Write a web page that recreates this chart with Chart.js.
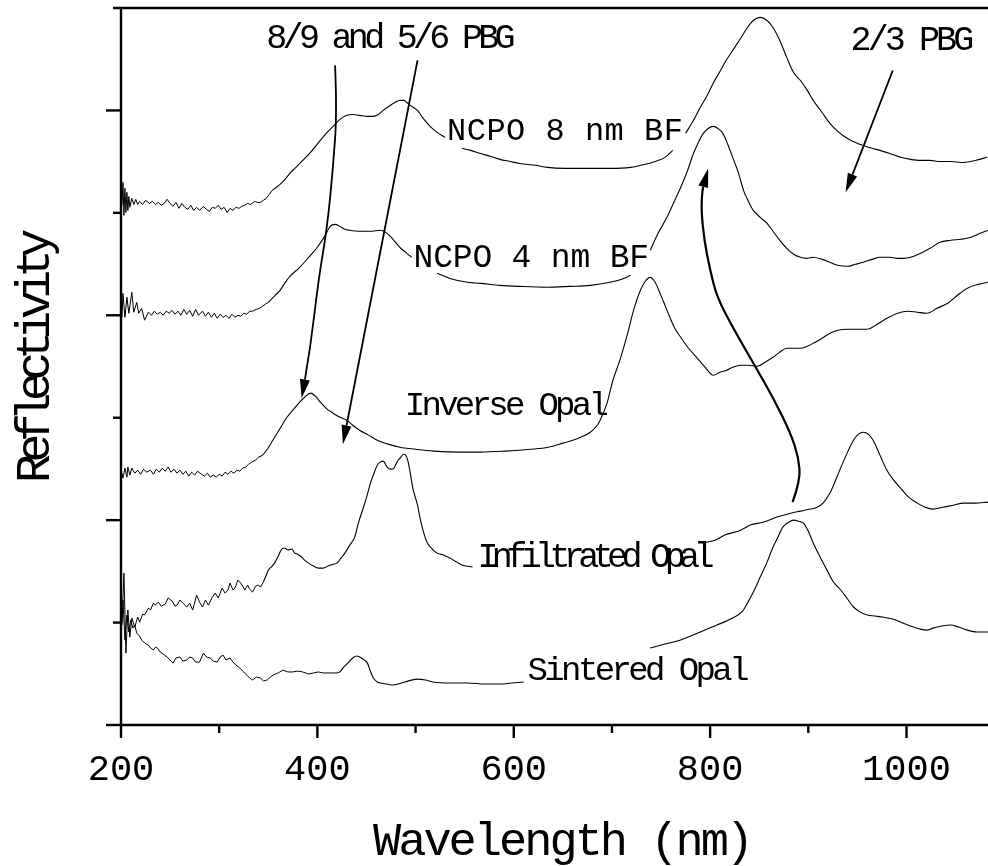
<!DOCTYPE html>
<html>
<head>
<meta charset="utf-8">
<script src="https://cdn.jsdelivr.net/npm/chart.js@4.4.1/dist/chart.umd.min.js"></script>
<style>
html,body{margin:0;padding:0;background:#fff;}
canvas{display:block;}
</style>
</head>
<body>
<canvas id="c" width="988" height="866"></canvas>
<script>
// ---- axis ticks ----
const xTicksMajor = [200, 400, 600, 800, 1000];
const xTicksMinor = [300, 500, 700, 900];
const yTicksMajor = [0, 1, 2, 3];
const yTicksMinor = [0.5, 1.5, 2.5];

// ---- series: [wavelength (nm), reflectivity (a.u., offset)] ----
const ncpo8 = [[201,2.537],[202,2.649],[203,2.488],[204,2.620],[205,2.502],[206,2.600],[207,2.512],[208,2.580],[209,2.527],[211,2.571],[213,2.541],[215,2.566],[217,2.541],[219,2.556],[222,2.541],[225,2.561],[229,2.546],[232,2.556],[235,2.541],[238,2.551],[241,2.537],[244,2.546],[247,2.566],[250,2.546],[253,2.532],[256,2.551],[259,2.522],[262,2.546],[265,2.527],[268,2.517],[271,2.537],[274,2.512],[277,2.527],[280,2.512],[284,2.532],[287,2.517],[290,2.507],[293,2.527],[296,2.522],[299,2.537],[302,2.517],[305,2.527],[308,2.502],[311,2.522],[314,2.512],[317,2.527],[320,2.522],[323,2.532],[326,2.537],[329,2.546],[332,2.541],[336,2.556],[339,2.551],[342,2.551],[345,2.561],[348,2.571],[351,2.590],[354,2.610],[358,2.624],[362,2.639],[367,2.663],[372,2.693],[377,2.717],[382,2.741],[393,2.795],[403,2.854],[410,2.893],[416,2.922],[423,2.956],[430,2.976],[436,2.980],[443,2.976],[451,2.971],[457,2.971],[462,2.980],[467,3.000],[474,3.024],[479,3.039],[484,3.049],[488,3.049],[491,3.039],[496,3.020],[502,3.000],[507,2.966],[512,2.937],[517,2.912],[522,2.893],[530,2.868],[538,null],[547,2.815],[556,2.805],[566,2.790],[576,2.776],[586,2.761],[596,2.751],[606,2.741],[622,2.732],[634,2.722],[652,2.717],[668,2.717],[683,2.717],[698,2.717],[719,2.722],[734,2.737],[744,2.751],[754,2.771],[762,2.805],[768,null],[775,2.888],[783,2.951],[790,3.015],[797,3.073],[803,3.132],[810,3.190],[815,3.234],[823,3.293],[831,3.351],[838,3.405],[844,3.439],[851,3.454],[858,3.439],[864,3.405],[871,3.341],[878,3.259],[885,3.185],[892,3.146],[899,3.098],[905,3.049],[914,2.990],[922,2.937],[930,2.898],[940,2.863],[948,2.844],[956,2.829],[965,2.815],[973,2.805],[983,2.790],[994,2.771],[1004,2.761],[1014,2.756],[1024,2.756],[1034,2.751],[1045,2.751],[1058,2.746],[1070,2.756],[1082,2.771]];

const ncpo4 = [[201,1.990],[202,2.107],[204,1.990],[206,2.088],[208,2.010],[211,2.112],[213,2.015],[216,2.063],[218,2.010],[221,2.034],[224,1.976],[228,2.015],[231,2.000],[234,2.020],[237,2.005],[240,2.015],[243,2.000],[246,2.020],[249,2.010],[252,2.024],[255,2.005],[258,2.020],[261,2.000],[264,2.029],[267,2.005],[270,2.024],[273,1.995],[276,2.029],[279,2.000],[283,2.020],[286,1.995],[289,2.015],[292,1.990],[295,2.010],[298,1.985],[301,2.005],[304,1.990],[307,2.000],[310,1.985],[313,2.005],[316,1.990],[319,2.000],[322,1.995],[325,2.010],[328,2.005],[331,2.020],[334,2.020],[338,2.029],[341,2.034],[344,2.044],[347,2.054],[350,2.063],[354,2.083],[358,2.102],[362,2.122],[366,2.151],[372,2.190],[382,2.234],[393,2.293],[400,2.332],[408,2.390],[413,2.434],[418,2.444],[423,2.434],[428,2.420],[433,2.415],[443,2.410],[454,2.410],[464,2.415],[471,2.400],[477,2.371],[484,2.332],[490,2.307],[496,2.283],[509,null],[522,2.205],[535,2.180],[553,2.161],[566,2.156],[586,2.146],[606,2.141],[634,2.137],[657,2.141],[678,2.146],[698,2.161],[710,2.176],[719,2.195],[729,null],[739,2.317],[747,2.400],[756,2.478],[763,2.551],[770,2.624],[777,2.707],[783,2.790],[788,2.844],[793,2.888],[798,2.912],[803,2.922],[808,2.912],[813,2.888],[818,2.834],[823,2.771],[829,2.693],[834,2.610],[839,2.556],[844,2.512],[851,2.478],[858,2.449],[864,2.410],[871,2.366],[878,2.327],[885,2.298],[892,2.283],[898,2.278],[905,2.283],[914,2.273],[922,2.259],[930,2.244],[940,2.239],[948,2.249],[956,2.259],[965,2.273],[973,2.283],[983,2.283],[991,2.278],[997,2.278],[1004,2.283],[1014,2.302],[1024,2.327],[1034,2.356],[1045,2.366],[1055,2.371],[1065,2.380],[1075,2.400],[1083,2.415]];

const inverseOpal = [[201,1.229],[202,1.205],[204,1.254],[206,1.210],[207,1.259],[209,1.220],[211,1.254],[214,1.229],[217,1.244],[220,1.224],[223,1.249],[226,1.234],[230,1.244],[233,1.224],[236,1.249],[239,1.234],[242,1.254],[245,1.239],[248,1.259],[251,1.234],[254,1.249],[257,1.229],[260,1.244],[263,1.224],[266,1.239],[269,1.215],[272,1.234],[275,1.220],[278,1.239],[282,1.224],[285,1.215],[288,1.229],[291,1.210],[294,1.220],[297,1.210],[300,1.224],[303,1.215],[306,1.234],[309,1.224],[312,1.239],[315,1.229],[318,1.244],[321,1.239],[324,1.254],[327,1.259],[330,1.273],[333,1.283],[337,1.293],[340,1.307],[344,1.317],[349,1.346],[354,1.385],[359,1.424],[364,1.463],[369,1.502],[375,1.537],[382,1.576],[387,1.600],[393,1.620],[398,1.605],[403,1.576],[409,1.546],[416,1.522],[423,1.502],[430,1.488],[436,1.463],[443,1.439],[452,1.415],[461,1.390],[472,1.371],[484,1.356],[500,1.346],[518,1.337],[545,1.332],[566,1.332],[591,1.337],[617,1.346],[635,1.356],[650,1.376],[666,1.400],[678,1.429],[685,1.463],[688,1.488],[695,1.571],[701,1.683],[708,1.780],[716,1.912],[722,2.024],[729,2.122],[734,2.166],[739,2.185],[744,2.161],[749,2.107],[754,2.049],[759,1.990],[764,1.937],[770,1.893],[778,1.839],[787,1.790],[795,1.746],[803,1.707],[810,1.722],[817,1.732],[823,1.746],[831,1.756],[839,1.756],[848,1.751],[856,1.771],[864,1.795],[871,1.820],[878,1.839],[885,1.839],[892,1.839],[899,1.849],[905,1.863],[914,1.888],[922,1.912],[930,1.927],[940,1.932],[950,1.932],[960,1.932],[970,1.956],[980,1.985],[991,2.010],[1001,2.020],[1011,2.015],[1021,2.010],[1031,2.034],[1042,2.059],[1052,2.098],[1062,2.132],[1073,2.151],[1083,2.161]];

const infiltratedOpal = [[201,0.498],[203,0.741],[205,0.351],[207,0.561],[209,0.429],[211,0.522],[214,0.478],[217,0.527],[219,0.502],[222,0.541],[224,0.537],[228,0.571],[230,0.561],[233,0.595],[235,0.585],[238,0.600],[241,0.580],[245,0.590],[248,0.620],[252,0.605],[255,0.580],[257,0.585],[260,0.610],[264,0.590],[267,0.576],[270,0.595],[273,0.561],[277,0.634],[280,0.600],[283,0.576],[286,0.610],[289,0.585],[293,0.624],[296,0.644],[299,0.620],[303,0.668],[306,0.644],[309,0.659],[311,0.693],[314,0.659],[316,0.668],[319,0.707],[321,0.698],[324,0.678],[326,0.659],[329,0.683],[331,0.663],[334,0.649],[337,0.678],[340,0.683],[342,0.673],[345,0.698],[348,0.732],[350,0.756],[354,0.776],[357,0.795],[360,0.824],[362,0.844],[365,0.863],[367,0.863],[370,0.854],[374,0.859],[377,0.839],[380,0.834],[384,0.820],[387,0.805],[391,0.790],[396,0.776],[401,0.766],[406,0.766],[411,0.776],[416,0.785],[420,0.790],[424,0.815],[428,0.839],[433,0.878],[438,0.917],[442,0.990],[447,1.063],[451,1.127],[454,1.180],[458,1.234],[461,1.268],[464,1.283],[467,1.288],[471,1.259],[475,1.249],[478,1.254],[481,1.283],[484,1.302],[488,1.322],[490,1.317],[492,1.293],[495,1.220],[497,1.161],[502,1.073],[505,1.000],[509,0.927],[512,0.888],[517,0.859],[522,0.839],[529,0.829],[535,0.815],[542,0.795],[548,0.780],[558,0.771],[575,null],[792,0.888],[805,0.902],[815,0.927],[831,0.951],[841,0.976],[854,0.990],[868,1.015],[882,1.034],[892,1.044],[902,1.054],[909,1.063],[915,1.083],[922,1.132],[927,1.185],[932,1.244],[940,1.332],[946,1.390],[951,1.420],[956,1.429],[961,1.420],[966,1.390],[973,1.317],[980,1.244],[987,1.195],[994,1.156],[1001,1.117],[1011,1.083],[1019,1.063],[1027,1.054],[1037,1.063],[1048,1.073],[1058,1.083],[1070,1.083],[1083,1.088]];

const sinteredOpal = [[201,0.488],[202,0.610],[204,0.415],[206,0.537],[208,0.454],[210,0.512],[212,0.473],[214,0.488],[216,0.449],[219,0.434],[221,0.415],[224,0.400],[228,0.390],[230,0.376],[233,0.366],[235,0.380],[237,0.376],[240,0.356],[243,0.346],[247,0.332],[250,0.317],[253,0.302],[256,0.327],[260,0.332],[263,0.312],[267,0.317],[270,0.332],[273,0.327],[276,0.307],[280,0.307],[284,0.351],[287,0.332],[291,0.327],[294,0.312],[298,0.307],[301,0.332],[304,0.341],[307,0.317],[311,0.327],[314,0.307],[317,0.293],[321,0.278],[325,0.259],[328,0.244],[331,0.229],[334,0.220],[338,0.234],[342,0.229],[345,0.215],[349,0.220],[352,0.234],[355,0.244],[360,0.254],[365,0.268],[370,0.259],[375,0.259],[380,0.263],[385,0.259],[391,0.249],[396,0.254],[401,0.259],[406,0.254],[413,0.254],[420,0.254],[423,0.259],[426,0.278],[431,0.302],[436,0.327],[440,0.337],[443,0.332],[448,0.317],[451,0.302],[454,0.263],[457,0.229],[461,0.210],[464,0.205],[471,0.200],[477,0.195],[489,0.210],[502,0.224],[510,0.220],[518,0.210],[535,0.205],[553,0.205],[571,0.200],[586,0.200],[598,0.205],[610,0.210],[675,null],[739,0.376],[754,0.395],[770,0.415],[790,0.454],[807,0.488],[823,0.522],[833,0.556],[838,0.595],[844,0.649],[851,0.722],[858,0.795],[864,0.868],[869,0.917],[874,0.966],[880,0.990],[885,1.000],[890,0.995],[895,0.985],[900,0.946],[905,0.888],[912,0.820],[919,0.756],[925,0.702],[933,0.659],[940,0.615],[946,0.576],[953,0.551],[960,0.537],[968,0.532],[976,0.527],[986,0.517],[994,0.502],[1004,0.483],[1014,0.468],[1021,0.463],[1027,0.473],[1036,0.483],[1045,0.488],[1053,0.478],[1062,0.463],[1072,0.454],[1083,0.454]];

const seriesNames = ['NCPO 8 nm BF', 'NCPO 4 nm BF', 'Inverse Opal', 'Infiltrated Opal', 'Sintered Opal'];
const seriesData = [ncpo8, ncpo4, inverseOpal, infiltratedOpal, sinteredOpal];
// wavelength below which each measured trace is noisy (drawn without smoothing)
const noisyUntilNm = [354, 350, 340, 345, 423];

// ---- annotation arrows (data coordinates) ----
const arrow89 = [[418,3.220],[420,3.000],[416,2.722],[410,2.429],[401,2.171],[393,1.844],[384,1.595]];
const arrow56 = [[502,3.244],[426,1.371]];
const arrow23 = [[986,3.195],[938,2.600]];
const arrowShift = [[884,1.088],[892,1.195],[890,1.307],[882,1.424],[864,1.600],[844,1.766],[823,1.941],[807,2.088],[800,2.220],[794,2.366],[791,2.512],[792,2.610],[798,2.717]];

// ---- annotation labels ----
const labelTexts = ['8/9 and 5/6 PBG', '2/3 PBG', 'NCPO 8 nm BF', 'NCPO 4 nm BF', 'Inverse Opal', 'Infiltrated Opal', 'Sintered Opal'];
const labelAnchorsNm = [348, 943, 532, 498, 489, 563, 614];
const labelAnchorsR = [3.307, 3.293, 2.854, 2.234, 1.512, 0.771, 0.220];
const labelStyle = [
  {size:35, ls:-4.7}, {size:35, ls:-3.9}, {size:32, ls:0.5}, {size:33, ls:-0.2},
  {size:34, ls:-3.7}, {size:35, ls:-6.6}, {size:34, ls:-3.6}
];

const xTitle = 'Wavelength (nm)';
const yTitle = 'Reflectivity';
const FONT = '"Liberation Mono", "Courier New", monospace';

const decor = {
  id: 'decor',
  afterDraw(chart) {
    const {ctx, chartArea: ca, scales: {x, y}} = chart;
    const px = v => x.getPixelForValue(v);
    const py = v => y.getPixelForValue(v);
    ctx.save();
    ctx.strokeStyle = '#000';
    ctx.fillStyle = '#000';
    ctx.lineCap = 'butt';
    const seg = (x1, y1, x2, y2, w) => {
      ctx.lineWidth = w;
      ctx.beginPath(); ctx.moveTo(x1, y1); ctx.lineTo(x2, y2); ctx.stroke();
    };
    // axes frame
    seg(ca.left, ca.top - 1, ca.left, ca.bottom + 1, 2.4);
    seg(ca.left - 8, ca.top, ca.right, ca.top, 2.4);
    seg(ca.left, ca.bottom, ca.right, ca.bottom, 2.4);
    // y ticks
    yTicksMajor.forEach(v => seg(ca.left - 15, py(v), ca.left, py(v), 2.4));
    yTicksMinor.forEach(v => seg(ca.left - 8, py(v), ca.left, py(v), 2.4));
    // x ticks
    xTicksMajor.forEach(v => seg(px(v), ca.bottom, px(v), ca.bottom + 13, 2.4));
    xTicksMinor.forEach(v => seg(px(v), ca.bottom, px(v), ca.bottom + 8, 2.4));

    // arrows
    const drawArrow = (arr, lw) => {
      const pts = arr.map(([a, b]) => ({x: px(a), y: py(b)}));
      const n = pts.length;
      const tip = pts[n - 1], prev = pts[n - 2];
      const ang = Math.atan2(tip.y - prev.y, tip.x - prev.x);
      const hl = 19, hw = 5;
      const base = {x: tip.x - hl * Math.cos(ang), y: tip.y - hl * Math.sin(ang)};
      ctx.lineWidth = lw;
      ctx.beginPath();
      ctx.moveTo(pts[0].x, pts[0].y);
      if (n === 2) {
        ctx.lineTo(base.x, base.y);
      } else {
        for (let i = 1; i < n - 2; i++) {
          const mx = (pts[i].x + pts[i + 1].x) / 2, my = (pts[i].y + pts[i + 1].y) / 2;
          ctx.quadraticCurveTo(pts[i].x, pts[i].y, mx, my);
        }
        ctx.quadraticCurveTo(pts[n - 2].x, pts[n - 2].y, base.x, base.y);
      }
      ctx.stroke();
      ctx.beginPath();
      ctx.moveTo(tip.x, tip.y);
      ctx.lineTo(base.x + hw * Math.sin(ang), base.y - hw * Math.cos(ang));
      ctx.lineTo(base.x - hw * Math.sin(ang), base.y + hw * Math.cos(ang));
      ctx.closePath();
      ctx.fill();
    };
    drawArrow(arrow89, 1.8);
    drawArrow(arrow56, 1.8);
    drawArrow(arrow23, 1.8);
    drawArrow(arrowShift, 2.2);

    // labels
    ctx.textAlign = 'left';
    ctx.textBaseline = 'alphabetic';
    labelTexts.forEach((t, i) => {
      const st = labelStyle[i];
      ctx.font = st.size + 'px ' + FONT;
      ctx.letterSpacing = st.ls + 'px';
      ctx.fillText(t, px(labelAnchorsNm[i]), py(labelAnchorsR[i]));
    });

    // axis titles
    ctx.font = '47px ' + FONT;
    ctx.letterSpacing = '-3px';
    ctx.textAlign = 'left';
    ctx.fillText(xTitle, 373, 855);

    ctx.save();
    ctx.translate(49, 360);
    ctx.rotate(-Math.PI / 2);
    ctx.font = '48px ' + FONT;
    ctx.letterSpacing = '-8.3px';
    ctx.textAlign = 'center';
    ctx.fillText(yTitle, 0, 0);
    ctx.restore();

    ctx.letterSpacing = '0px';
    ctx.restore();
  }
};

const allXTicks = [...xTicksMajor, ...xTicksMinor].sort((a, b) => a - b);

const datasets = [];
seriesData.forEach((s, i) => {
  let k = s.findIndex(p => p[0] >= noisyUntilNm[i]);
  if (k < 0) k = s.length - 1;
  const toXY = arr => arr.map(([a, b]) => ({x: a, y: b}));
  datasets.push({
    label: seriesNames[i] + ' (noisy)',
    data: toXY(s.slice(0, k + 1)),
    borderColor: '#000', borderWidth: 1, pointRadius: 0, fill: false,
    spanGaps: false, tension: 0
  });
  datasets.push({
    label: seriesNames[i],
    data: toXY(s.slice(k)),
    borderColor: '#000', borderWidth: 1.1, pointRadius: 0, fill: false,
    spanGaps: false, cubicInterpolationMode: 'monotone'
  });
});

new Chart(document.getElementById('c').getContext('2d'), {
  type: 'line',
  data: { datasets },
  options: {
    responsive: false,
    animation: false,
    devicePixelRatio: 1,
    layout: {padding: {top: 8, left: 0, right: 0, bottom: 0}},
    plugins: {legend: {display: false}, tooltip: {enabled: false}},
    scales: {
      x: {
        type: 'linear', min: 200, max: 1083, position: 'bottom',
        afterBuildTicks: s => { s.ticks = allXTicks.map(v => ({value: v})); },
        afterFit: s => { s.height = 141; },
        grid: {display: false, drawTicks: false},
        border: {display: false},
        ticks: {
          autoSkip: false, maxRotation: 0, minRotation: 0, padding: 23,
          color: '#000', font: {family: FONT, size: 37},
          callback: v => xTicksMajor.includes(v) ? String(v) : ''
        }
      },
      y: {
        type: 'linear', min: 0, max: 3.5,
        afterFit: s => { s.width = 121; },
        grid: {display: false, drawTicks: false},
        border: {display: false},
        ticks: {display: false}
      }
    }
  },
  plugins: [decor]
});
</script>
</body>
</html>
